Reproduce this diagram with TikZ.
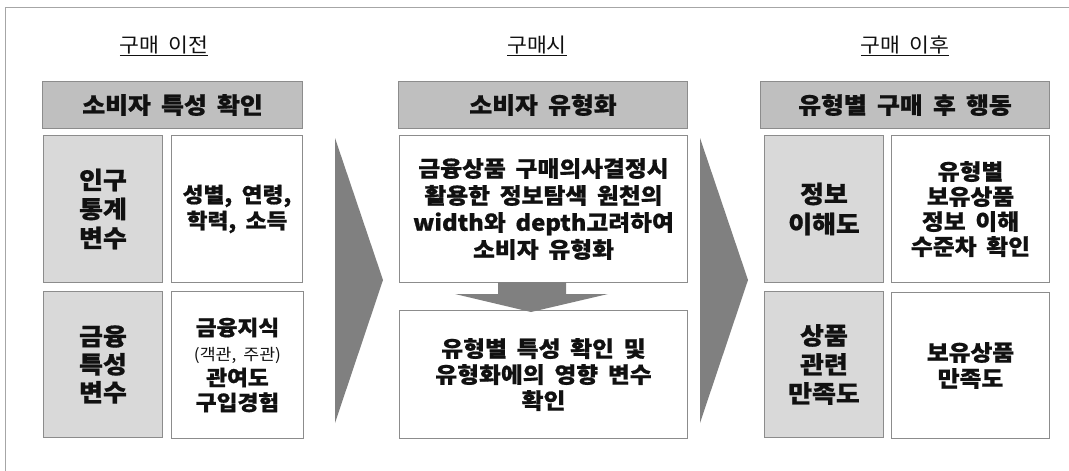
\documentclass[tikz,border=0pt]{standalone}
\usepackage{fontspec}
\newfontfamily\kr[FakeStretch=1.08,WordSpace=1.8,BoldFeatures={FakeBold=0.8}]{Noto Sans CJK KR}
\definecolor{bordergray}{HTML}{8C8C8C}
\definecolor{framegray}{HTML}{A6A6A6}
\definecolor{hdrgray}{HTML}{BFBFBF}
\definecolor{cellgray}{HTML}{D9D9D9}
\definecolor{arrowgray}{HTML}{808080}
\definecolor{txt}{HTML}{111111}
\begin{document}
\begin{tikzpicture}[x=1pt,y=-1pt,
  box/.style={draw=bordergray, line width=1pt, anchor=north west, align=center, inner sep=0pt, text=txt},
  hdr/.style={box, fill=hdrgray, font=\kr\bfseries\fontsize{23}{27}\selectfont},
  lcell/.style={box, fill=cellgray, font=\kr\bfseries\fontsize{24}{29}\selectfont},
  wcell/.style={box, fill=white, font=\kr\bfseries\fontsize{22}{26}\selectfont},
  ttl/.style={font=\kr\fontsize{20}{22}\selectfont, text=txt, inner sep=0pt},
  bigarrow/.style={fill=arrowgray, draw=none}]
\useasboundingbox (0,0) rectangle (1069,471);
\fill[white] (0,0) rectangle (1069,471);
\begin{scope}
\clip (0,0) rectangle (1069,471);
\draw[framegray, line width=1.2pt] (5.5,7.5) rectangle (1100,500);
\end{scope}
% titles
\node[ttl] (t1) at (164,46) {\underline{구매 이전}};
\node[ttl] (t2) at (537,46) {\underline{구매시}};
\node[ttl] (t3) at (905,46) {\underline{구매 이후}};
% headers
\node[hdr, minimum width=260pt, minimum height=47pt] (h1) at (42,81) {소비자 특성 확인};
\node[hdr, minimum width=289pt, minimum height=47pt] (h2) at (398,81) {소비자 유형화};
\node[hdr, minimum width=289pt, minimum height=47pt] (h3) at (760,81) {유형별 구매 후 행동};
% left column
\node[lcell, minimum width=119pt, minimum height=147pt] (a1) at (43,135) {인구\\통계\\변수};
\node[wcell, minimum width=131pt, minimum height=147pt, font=\kr\bfseries\fontsize{21}{26}\selectfont] (b1) at (171,135) {성별, 연령,\\학력, 소득};
\node[lcell, minimum width=119pt, minimum height=146pt, font=\kr\bfseries\fontsize{24}{28}\selectfont] (a2) at (43,291) {금융\\특성\\변수};
\node[wcell, minimum width=132pt, minimum height=147pt, font=\kr\bfseries\fontsize{21}{25}\selectfont] (b2) at (171,291) {금융지식\\{\mdseries\fontsize{16}{25}\selectfont (객관, 주관)}\\관여도\\구입경험};
% middle column
\node[wcell, minimum width=288pt, minimum height=147pt, font=\kr\bfseries\fontsize{22}{27}\selectfont] (m1) at (399,135) {금융상품 구매의사결정시\\활용한 정보탐색 원천의\\width와 depth고려하여\\소비자 유형화};
\node[wcell, minimum width=288pt, minimum height=128pt] (m2) at (399,310) {유형별 특성 확인 및\\유형화에의 영향 변수\\확인};
% right column
\node[lcell, minimum width=119pt, minimum height=147pt, font=\kr\bfseries\fontsize{24}{30}\selectfont] (c1) at (764,135) {정보\\이해도};
\node[wcell, minimum width=158pt, minimum height=147pt, font=\kr\bfseries\fontsize{22}{25}\selectfont] (d1) at (891,135) {유형별\\보유상품\\정보 이해\\수준차 확인};
\node[lcell, minimum width=119pt, minimum height=146pt] (c2) at (764,291) {상품\\관련\\만족도};
\node[wcell, minimum width=158pt, minimum height=146pt] (d2) at (891,292) {보유상품\\만족도};
% big chevron arrows
\fill[bigarrow] (335,138) -- (383,280) -- (335,423) -- cycle;
\fill[bigarrow] (700,138) -- (748,280) -- (700,423) -- cycle;
% down arrow between m1 and m2
\fill[bigarrow] (498,282) -- (566,282) -- (566,294) -- (608,294) -- (531,312) -- (455,294) -- (498,294) -- cycle;
\end{tikzpicture}
\end{document}
